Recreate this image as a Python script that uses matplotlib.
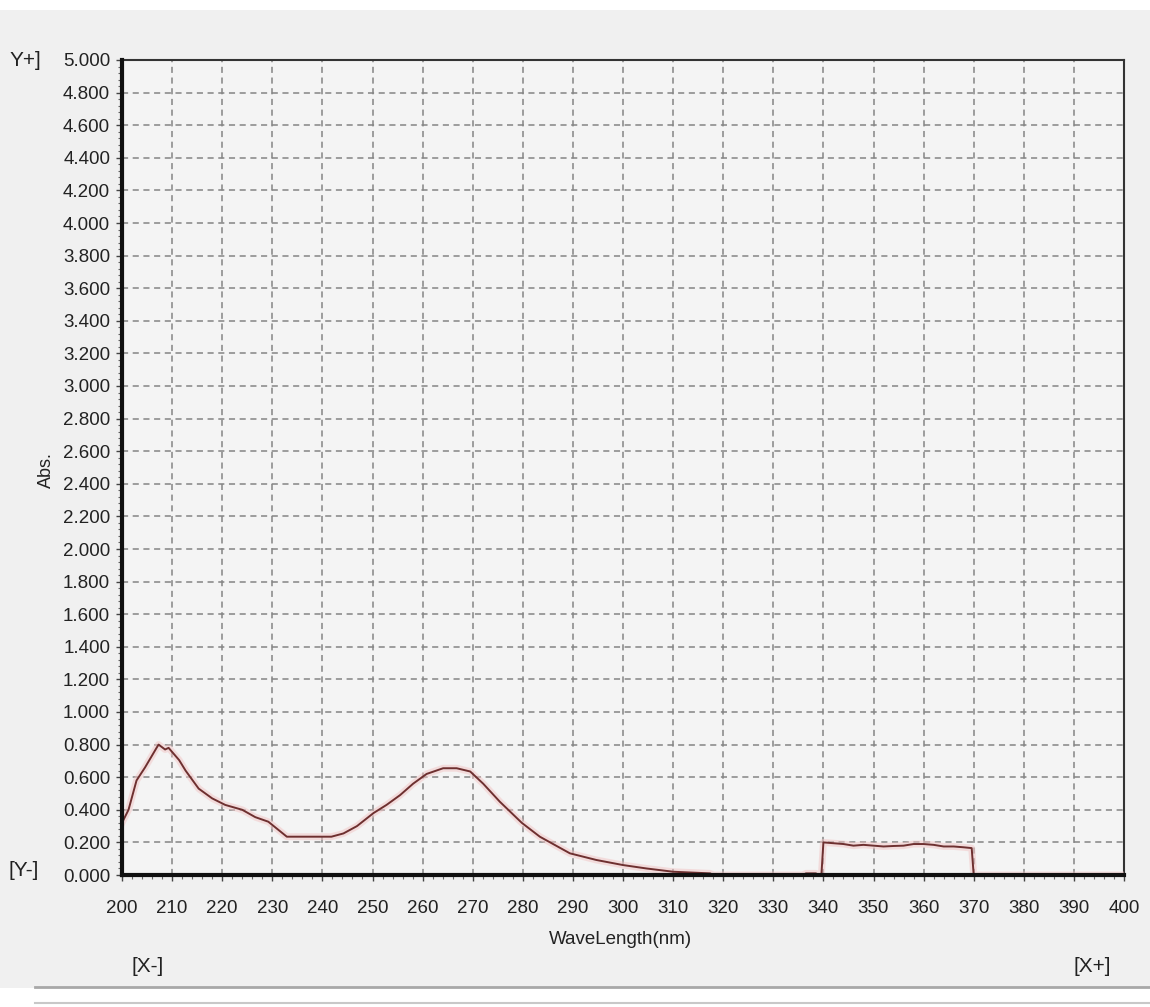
import matplotlib
matplotlib.use("Agg")
import matplotlib.pyplot as plt
from matplotlib.ticker import MultipleLocator, FormatStrFormatter
from matplotlib.patches import Rectangle
from matplotlib.lines import Line2D

# ---- data ----
wavelength = [200.0, 201.3, 202.9, 204.6, 206.9, 207.3, 208.6, 209.3, 211.4, 212.7,
              215.3, 218.0, 220.6, 224.0, 226.6, 229.2, 232.9, 241.8, 244.2, 246.9,
              250.2, 252.8, 255.5, 258.1, 260.8, 264.1, 266.8, 269.5, 272.1, 275.4,
              279.8, 283.4, 289.4, 294.7, 300.0, 304.7, 310.0, 317.4, 318.0, 336.0,
              336.5, 338.5, 339.0, 339.6, 340.0, 342.0, 344.0, 346.0, 348.0, 350.0,
              352.0, 354.0, 356.0, 358.0, 360.0, 362.0, 364.0, 366.0, 368.0, 369.6,
              370.0, 372.0, 400.0]
absorbance = [0.32, 0.40, 0.58, 0.66, 0.78, 0.80, 0.77, 0.78, 0.705, 0.64,
              0.53, 0.47, 0.43, 0.40, 0.355, 0.327, 0.235, 0.235, 0.255, 0.30,
              0.38, 0.43, 0.49, 0.56, 0.62, 0.655, 0.655, 0.635, 0.56, 0.45,
              0.32, 0.235, 0.133, 0.092, 0.061, 0.04, 0.02, 0.01, 0.0, 0.0,
              0.01, 0.01, 0.0, 0.0, 0.20, 0.195, 0.19, 0.18, 0.185, 0.18,
              0.175, 0.178, 0.18, 0.19, 0.19, 0.185, 0.175, 0.175, 0.17, 0.165,
              0.0, 0.0, 0.0]

x_min, x_max = 200, 400
y_min, y_max = 0.0, 5.0

FONT = ['Liberation Sans', 'DejaVu Sans']
plt.rcParams['font.family'] = FONT

W, H = 1150, 1007
fig = plt.figure(figsize=(W / 100, H / 100), dpi=100, facecolor='#f0f0f0')

# window decorations
fig.patches.append(Rectangle((0, 1 - 10 / H), 1, 10 / H, transform=fig.transFigure,
                             facecolor='white', edgecolor='none', zorder=-5))
fig.patches.append(Rectangle((0, 0), 1, (H - 988) / H, transform=fig.transFigure,
                             facecolor='white', edgecolor='none', zorder=-5))
fig.lines.append(Line2D([0.03, 1], [(H - 987) / H] * 2, transform=fig.transFigure,
                        color='#a8a8a8', lw=2))
fig.lines.append(Line2D([0.03, 1], [(H - 1003) / H] * 2, transform=fig.transFigure,
                        color='#c8c8c8', lw=1.5))

left, right, top, bottom = 122, 1124, 60, 875
ax = fig.add_axes([left / W, 1 - bottom / H, (right - left) / W, (bottom - top) / H])
ax.set_facecolor('#f4f4f4')

# halo + line
ax.plot(wavelength, absorbance, color='#f2c4c4', lw=5, alpha=0.5, zorder=3,
        solid_joinstyle='round')
ax.plot(wavelength, absorbance, color='#6e3030', lw=1.4, zorder=4)

ax.set_xlim(x_min, x_max)
ax.set_ylim(y_min, y_max)
ax.xaxis.set_major_locator(MultipleLocator(10))
ax.xaxis.set_minor_locator(MultipleLocator(2))
ax.yaxis.set_major_locator(MultipleLocator(0.2))
ax.yaxis.set_minor_locator(MultipleLocator(0.04))
ax.yaxis.set_major_formatter(FormatStrFormatter('%.3f'))

ax.grid(True, which='major', color='#858585', linestyle=(0, (4, 3)), lw=1.1, zorder=1)

for s in ['top', 'right']:
    ax.spines[s].set_color('#333333')
    ax.spines[s].set_linewidth(1.5)
for s in ['left', 'bottom']:
    ax.spines[s].set_color('#111111')
    ax.spines[s].set_linewidth(3)
    ax.spines[s].set_zorder(5)

ax.tick_params(axis='both', which='major', direction='out', length=4, width=1,
               color='#444444', labelsize=13.5, labelcolor='#222222')
ax.tick_params(axis='both', which='minor', direction='out', length=3, width=0.8,
               color='#666666')
ax.tick_params(axis='y', which='major', pad=4.5)
ax.tick_params(axis='x', which='major', pad=14)

fig.text(46 / W, 1 - 470 / H, 'Abs.', rotation=90, ha='center',
         va='center', fontsize=13, color='#222222')
fig.text(620 / W, 1 - 939 / H, 'WaveLength(nm)', ha='center', va='center',
         fontsize=13.5, color='#222222')
fig.text(10 / W, 1 - 60 / H, 'Y+]', ha='left', va='center', fontsize=15, color='#222222')
fig.text(8 / W, 1 - 870 / H, '[Y-]', ha='left', va='center', fontsize=15, color='#222222')
fig.text(148 / W, 1 - 966 / H, '[X-]', ha='center', va='center', fontsize=15, color='#222222')
fig.text(1092 / W, 1 - 966 / H, '[X+]', ha='center', va='center', fontsize=15, color='#222222')

fig.savefig('out.png', dpi=100, facecolor=fig.get_facecolor())
